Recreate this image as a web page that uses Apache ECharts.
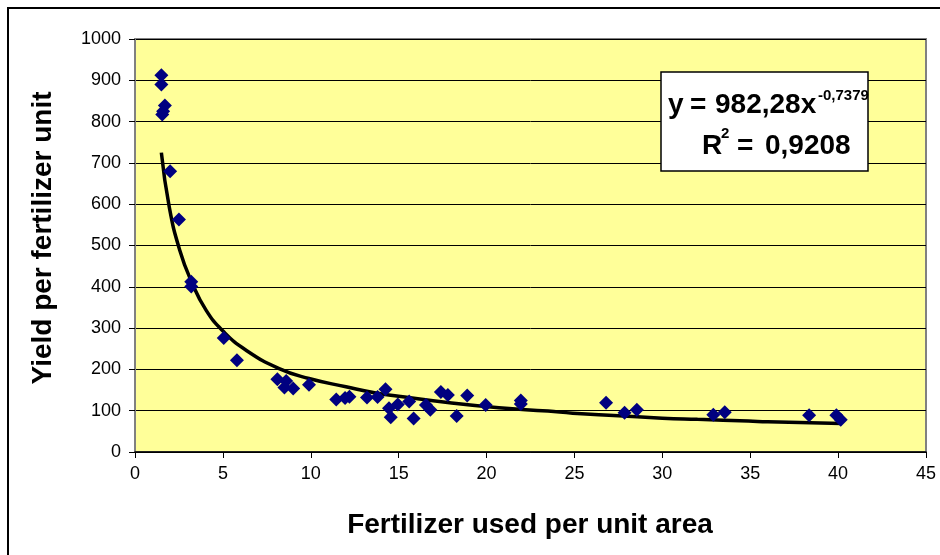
<!DOCTYPE html>
<html>
<head>
<meta charset="utf-8">
<script src="https://cdn.jsdelivr.net/npm/echarts@6/dist/echarts.min.js"></script>
<style>
    html, body { margin: 0; padding: 0; background: #fff; }
    #app { width: 940px; height: 555px; }
</style>
</head>
<body>
<div id="app"></div>
<script>
// measured points: fertilizer used per unit area / yield per fertilizer unit
var fertX = [1.5, 1.5, 1.7, 1.55, 1.6, 2.0, 2.5, 3.2, 3.2, 5.05, 5.8,
    8.1, 8.6, 8.5, 9.0, 9.9, 11.45, 11.95, 12.2, 13.2, 13.8, 14.25, 14.45, 14.55,
    14.95, 15.6, 15.85, 16.55, 16.8, 17.4, 17.8, 18.3, 18.9, 19.95, 21.95, 21.95,
    26.8, 27.85, 28.55, 32.9, 33.55, 38.35, 39.9, 40.15]
var yieldY = [912, 890, 839, 817, 825, 680, 563, 412, 401, 276, 222,
    176, 172, 156, 154, 163, 127, 131, 134, 132, 133, 152, 106, 84,
    115, 122, 81, 114, 102, 145, 138, 87, 137, 114, 125, 116,
    119, 95, 102, 90, 96, 89, 89, 78]

// power trend line
var trendX = [1.5, 1.95, 2.55, 3.2, 4.05, 5.05, 6.3, 8.2, 9.9, 12, 13.7, 15,
    17.9, 20.7, 23.5, 24.9, 27.5, 30, 32, 34.9, 36, 40.2]
var trendY = [725, 593, 488, 414, 343, 291, 247, 202, 178, 158, 143, 135,
    119, 107, 99, 94, 88, 82, 79, 75, 73, 69]

var xTitle = 'Fertilizer used per unit area'
var yTitle = 'Yield per fertilizer unit'

var font = '"Liberation Sans", Arial, sans-serif'

var chart = echarts.init(document.getElementById('app'))

var points = fertX.map((x, i) => [x, yieldY[i]])
var trend = trendX.map((x, i) => [x, trendY[i]])

// equation box pieces
var eqText = (text, x, y, size) => ({
    type: 'text',
    x: x,
    y: y,
    z: 102,
    style: {
        text: text,
        fill: '#000',
        font: 'bold ' + size + 'px ' + font,
        align: 'left',
        verticalAlign: 'middle'
    }
})

chart.setOption({
    animation: false,
    backgroundColor: '#fff',
    grid: {
        left: 135,
        right: 14,
        top: 39,
        bottom: 103,
        show: true,
        backgroundColor: '#FFFF99',
        borderColor: '#808080',
        borderWidth: 2
    },
    xAxis: {
        type: 'value',
        min: 0,
        max: 45,
        interval: 5,
        axisLine: { show: true, onZero: false, lineStyle: { color: '#000', width: 1.5 } },
        axisTick: { show: true, length: 6, lineStyle: { color: '#000' } },
        axisLabel: { margin: 13, fontSize: 18, color: '#000', fontFamily: font },
        splitLine: { show: false }
    },
    yAxis: {
        type: 'value',
        min: 0,
        max: 1000,
        interval: 100,
        axisLine: { show: true, lineStyle: { color: '#808080', width: 2 } },
        axisTick: { show: true, length: 6, lineStyle: { color: '#000' } },
        axisLabel: {
            margin: 14,
            fontSize: 18,
            color: '#000',
            fontFamily: font,
            formatter: (v) => String(v)
        },
        splitLine: { show: true, lineStyle: { color: '#000', width: 1 } }
    },
    series: [
        {
            type: 'line',
            data: trend,
            smooth: true,
            symbol: 'none',
            lineStyle: { color: '#000', width: 3.5 },
            z: 2
        },
        {
            type: 'scatter',
            data: points,
            symbol: 'diamond',
            symbolSize: 14,
            itemStyle: { color: '#000080', opacity: 1 },
            z: 3
        }
    ],
    graphic: [
        {
            type: 'rect',
            shape: { x: 8, y: 8, width: 1000, height: 1000 },
            style: { fill: 'none', stroke: '#000', lineWidth: 2 },
            z: 100
        },
        {
            type: 'text',
            x: 43,
            y: 238,
            rotation: Math.PI / 2,
            z: 100,
            style: {
                text: yTitle,
                fill: '#000',
                font: 'bold 28px ' + font,
                align: 'center',
                verticalAlign: 'middle'
            }
        },
        {
            type: 'text',
            x: 530,
            y: 525,
            z: 100,
            style: {
                text: xTitle,
                fill: '#000',
                font: 'bold 28px ' + font,
                align: 'center',
                verticalAlign: 'middle'
            }
        },
        {
            type: 'rect',
            shape: { x: 661, y: 72, width: 207, height: 99 },
            style: { fill: '#fff', stroke: '#000', lineWidth: 1.5 },
            z: 101
        },
        eqText('y', 668, 105, 28),
        eqText('=', 690, 105, 28),
        eqText('982,28x', 715, 105, 28),
        eqText('-0,7379', 818, 96, 15),
        eqText('R', 702, 146, 28),
        eqText('2', 721, 134, 15),
        eqText('=', 737, 146, 28),
        eqText('0,9208', 765, 146, 28)
    ]
})
</script>
</body>
</html>
